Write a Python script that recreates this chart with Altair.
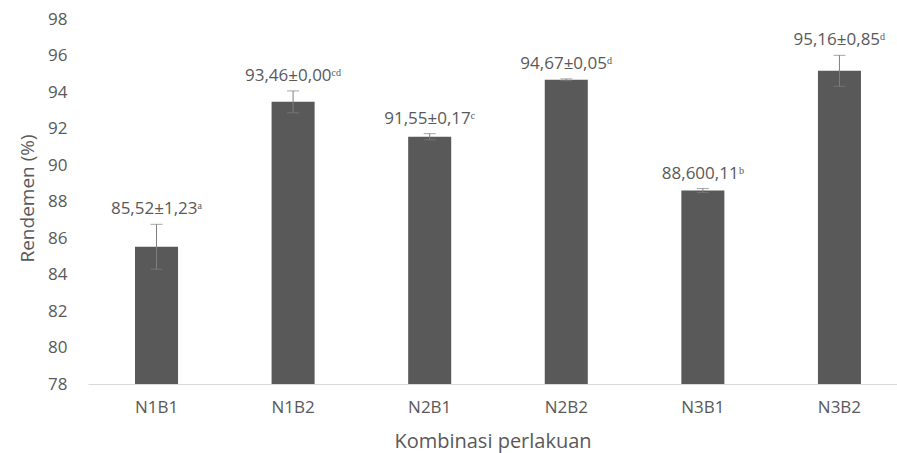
import altair as alt
import pandas as pd

categories = ["N1B1", "N1B2", "N2B1", "N2B2", "N3B1", "N3B2"]
means = [85.52, 93.46, 91.55, 94.67, 88.60, 95.16]
errors = [1.23, 0.60, 0.17, 0.05, 0.11, 0.85]
labels = ["85,52±1,23ᵃ", "93,46±0,00ᶜᵈ", "91,55±0,17ᶜ", "94,67±0,05ᵈ", "88,600,11ᵇ", "95,16±0,85ᵈ"]
y_ticks = [78, 80, 82, 84, 86, 88, 90, 92, 94, 96, 98]

df = pd.DataFrame({"cat": categories, "mean": means, "err": errors, "label": labels})
df["lo"] = df["mean"] - df["err"]
df["hi"] = df["mean"] + df["err"]

FONT = "Open Sans"
GREY = "#595959"
ERR = "#7f7f7f"

xscale = alt.Scale(paddingInner=0.685, paddingOuter=0.304, align=0.566)
yscale = alt.Scale(domain=[78, 98], nice=False, zero=False)

xaxis = alt.Axis(title="Kombinasi perlakuan", labelAngle=0, ticks=False,
                 domainColor="#d9d9d9", labelPadding=15, labelFontSize=17,
                 labelColor=GREY, labelFont=FONT, titleFont=FONT,
                 titleFontSize=20, titleColor=GREY, titleFontWeight="normal",
                 titleY=57, titleBaseline="middle", zindex=1)
yaxis = alt.Axis(title="Rendemen (%)", values=y_ticks, grid=False,
                 domain=False, ticks=False, labelPadding=21, labelFontSize=17,
                 labelOverlap=False, labelColor=GREY, labelFont=FONT,
                 titleFont=FONT, titleFontSize=19,
                 titleColor=GREY, titleFontWeight="normal", titleX=-61,
                 titleY=179, titleAngle=-90, titleAlign="center",
                 titleBaseline="middle")

def X():
    return alt.X("cat:N", sort=categories, scale=xscale, axis=xaxis, title="Kombinasi perlakuan")

def Y(field):
    return alt.Y(field, scale=yscale, axis=yaxis, title="Rendemen (%)")

bars = alt.Chart(df).mark_bar(color=GREY, clip=True).encode(x=X(), y=Y("mean:Q"), y2=alt.datum(78))

rules = alt.Chart(df).mark_rule(color=ERR, strokeWidth=1).encode(
    x=X(), y=Y("lo:Q"), y2="hi:Q")

caps_hi = alt.Chart(df).mark_tick(color=ERR, thickness=1, size=12, orient="horizontal").encode(
    x=X(), y=Y("hi:Q"))
caps_lo = alt.Chart(df).mark_tick(color=ERR, thickness=1, size=12, orient="horizontal").encode(
    x=X(), y=Y("lo:Q"))

text = alt.Chart(df).mark_text(font=FONT, fontSize=17, color=GREY, baseline="alphabetic", dy=-10).encode(
    x=X(), y=Y("hi:Q"), text="label:N")

chart = alt.layer(bars, rules, caps_hi, caps_lo, text).properties(
    width=809, height=365,
    autosize=alt.AutoSizeParams(type="none"),
    padding={"left": 88, "top": 19, "right": 0, "bottom": 69},
    background="white",
).configure_view(stroke=None)

chart.save("out.html", embed_options={"renderer": "svg", "actions": False})
